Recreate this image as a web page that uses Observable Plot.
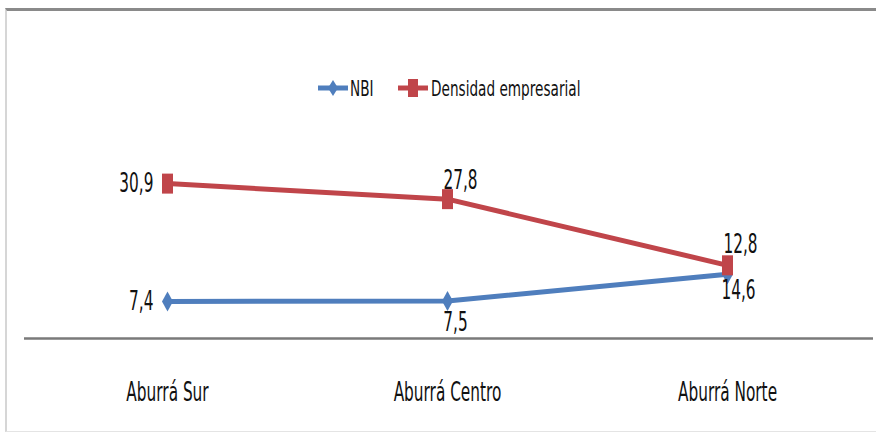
<!DOCTYPE html>
<html>
<head>
<meta charset="utf-8">
<script src="https://cdn.jsdelivr.net/npm/d3@7"></script>
<script src="https://cdn.jsdelivr.net/npm/@observablehq/plot@0.6"></script>
<style>
  body { margin: 0; background: #fff; width: 876px; height: 433px; overflow: hidden; position: relative; }
  #frame { position: absolute; left: 5px; top: 8px; width: 876px; height: 424px; border-top: 3px solid #8a8a8a; border-left: 2px solid #d6d6d6; border-bottom: 1px solid #e4e4e4; box-sizing: border-box; }
  #chart { position: absolute; left: 0; top: 0; }
  #legend { position: absolute; left: 0; top: 70px; }
</style>
</head>
<body>
<div id="frame"></div>
<div id="chart"></div>
<div id="legend"></div>
<script>
const categories = ["Aburrá Sur", "Aburrá Centro", "Aburrá Norte"];
const seriesNames = ["NBI", "Densidad empresarial"];
const nbiValues = [7.4, 7.5, 12.8];
const densidadValues = [30.9, 27.8, 14.6];
const nbiLabels = ["7,4", "7,5", "12,8"];
const densidadLabels = ["30,9", "27,8", "14,6"];
const colors = ["#4F7EBD", "#C0454A"];

const rows = [];
categories.forEach((c, i) => {
  rows.push({cat: c, series: seriesNames[0], value: nbiValues[i], label: nbiLabels[i], i});
  rows.push({cat: c, series: seriesNames[1], value: densidadValues[i], label: densidadLabels[i], i});
});

const diamond = {draw(ctx) { ctx.moveTo(0, -10); ctx.lineTo(5.5, 0); ctx.lineTo(0, 10); ctx.lineTo(-5.5, 0); ctx.closePath(); }};
const tallSquare = {draw(ctx) { ctx.rect(-5.5, -10, 11, 20); }};

const font = '"DejaVu Sans", sans-serif';
const nbi = rows.filter(d => d.series === "NBI");
const den = rows.filter(d => d.series !== "NBI");
const labelFont = 26;

const chart = Plot.plot({
  width: 876,
  height: 433,
  marginTop: 140,
  marginBottom: 95,
  marginLeft: 27,
  marginRight: 9,
  style: {fontFamily: font, background: "transparent"},
  x: {type: "point", domain: categories, padding: 0.5, label: null},
  y: {domain: [0, 39.5], axis: null},
  marks: [
    Plot.ruleY([0], {stroke: "#7a7a7a", strokeWidth: 2.5, insetLeft: -3, insetRight: -6}),
    Plot.axisX({tickSize: 0, tickPadding: 44, fontSize: 26, fill: "#111", label: null}),
    Plot.line(nbi, {x: "cat", y: "value", stroke: colors[0], strokeWidth: 5}),
    Plot.line(den, {x: "cat", y: "value", stroke: colors[1], strokeWidth: 5}),
    Plot.dot(nbi, {x: "cat", y: "value", symbol: diamond, fill: colors[0], stroke: "none"}),
    Plot.dot(den, {x: "cat", y: "value", symbol: tallSquare, fill: colors[1], stroke: "none"}),
    // labels left for first category
    Plot.text(rows.filter(d => d.i === 0), {x: "cat", y: "value", text: "label", textAnchor: "end", dx: -14, fontSize: labelFont, fill: "#111"}),
    // centro labels
    Plot.text(den.filter(d => d.i === 1), {x: "cat", y: "value", text: "label", dx: 13, dy: -18, fontSize: labelFont, fill: "#111"}),
    Plot.text(nbi.filter(d => d.i === 1), {x: "cat", y: "value", text: "label", dx: 8, dy: 22, fontSize: labelFont, fill: "#111"}),
    // norte labels
    Plot.text(nbi.filter(d => d.i === 2), {x: "cat", y: "value", text: "label", dx: 13, dy: -30, fontSize: labelFont, fill: "#111"}),
    Plot.text(den.filter(d => d.i === 2), {x: "cat", y: "value", text: "label", dx: 11, dy: 25, fontSize: labelFont, fill: "#111"})
  ]
});
document.getElementById("chart").appendChild(chart);

function squeeze(el, s) {
  const t = el.getAttribute("transform");
  if (t) {
    el.setAttribute("transform", t + ` scale(${s},1)`);
  } else {
    const x = +el.getAttribute("x") || 0;
    el.setAttribute("transform", `translate(${x},0) scale(${s},1) translate(${-x},0)`);
  }
}
chart.querySelectorAll("text").forEach(t => squeeze(t, 0.59));

// legend
const ns = "http://www.w3.org/2000/svg";
const lg = d3.select("#legend").append("svg").attr("width", 876).attr("height", 40);
const items = [{x: 318, tx: 350}, {x: 398, tx: 431}];
seriesNames.forEach((name, k) => {
  const it = items[k];
  lg.append("line").attr("x1", it.x).attr("x2", it.x + 30).attr("y1", 18).attr("y2", 18)
    .attr("stroke", colors[k]).attr("stroke-width", 5);
  if (k === 0) {
    lg.append("path").attr("d", `M${it.x + 15},10L${it.x + 20},18L${it.x + 15},26L${it.x + 10},18Z`).attr("fill", colors[k]);
  } else {
    lg.append("rect").attr("x", it.x + 10).attr("y", 9).attr("width", 10).attr("height", 18).attr("fill", colors[k]);
  }
  lg.append("text").attr("transform", `translate(${it.tx},18) scale(0.62,1)`)
    .attr("dy", "0.35em").attr("font-family", font).attr("font-size", 22).attr("fill", "#111")
    .text(name);
});
</script>
</body>
</html>
